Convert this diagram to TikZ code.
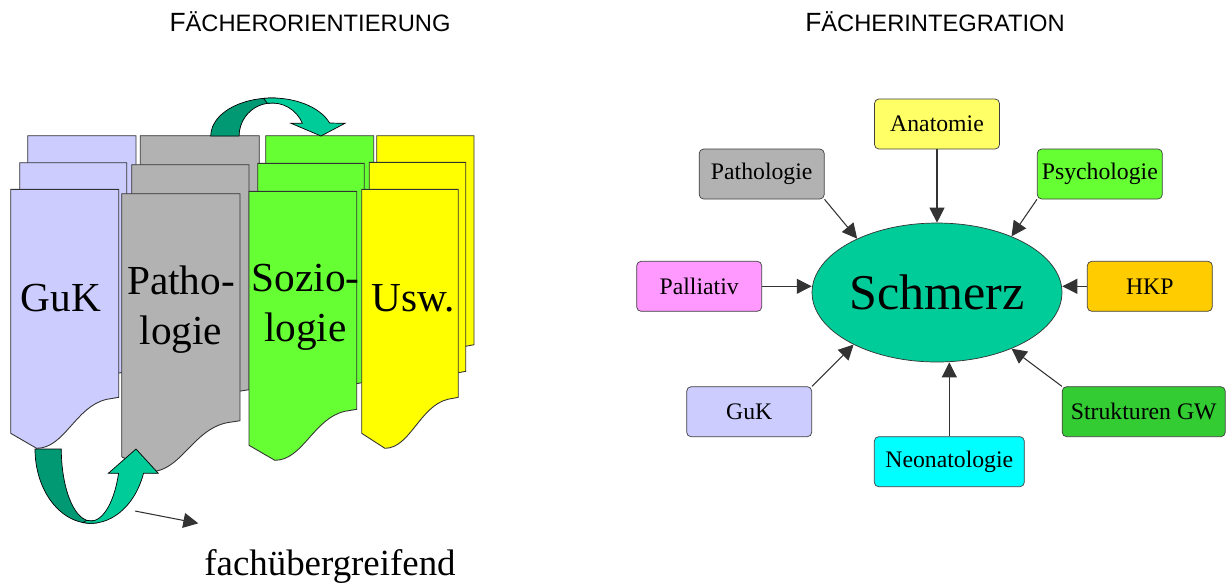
\documentclass[tikz,border=0pt]{standalone}
\usepackage{fontspec}
\setmainfont{Liberation Serif}
\newfontfamily\arial{Liberation Sans}
\usetikzlibrary{shapes.geometric,arrows.meta}

\definecolor{lavendel}{HTML}{CCCCFF}
\definecolor{grau}{HTML}{B2B2B2}
\definecolor{gruen}{HTML}{66FF33}
\definecolor{gelb}{HTML}{FFFF00}
\definecolor{hellgelb}{HTML}{FFFF66}
\definecolor{rosa}{HTML}{FF99FF}
\definecolor{hkpgelb}{HTML}{FFCC00}
\definecolor{tuerkis}{HTML}{00FFFF}
\definecolor{wiesengruen}{HTML}{33CC33}
\definecolor{mint}{HTML}{00CC99}
\definecolor{mintdunkel}{HTML}{009973}

\tikzset{
  karte/.style={draw=black!80, line width=0.5pt},
  kartentext/.style={font=\fontsize{23.5}{28.5}\selectfont, align=center, inner sep=0pt},
  fach/.style={draw=black!75, rounded corners=2.5pt, minimum width=2.5cm, minimum height=1cm,
    inner sep=1pt, font=\fontsize{13.5}{16}\selectfont},
  pfeil/.style={-{Triangle[length=8.5pt,width=8.5pt]}, draw=black!80, line width=0.6pt},
  band/.style={draw=black, line width=0.4pt},
  kopf/.style={font=\arial\fontsize{15}{18}\selectfont, anchor=base},
}

% Karteikarte: links oben (#1,#2), Breite #3, Tiefe bis zur Spitze #4, Farbe #5
\newcommand{\karte}[5]{%
  \filldraw[karte,fill=#5] (#1,#2) -- ({#1+#3},#2) -- ({#1+#3},{#2+#4-51})
    -- ({#1+0.89*#3},{#2+#4-49})
    .. controls ({#1+0.6*#3},{#2+#4-42}) and ({#1+0.5*#3},{#2+#4}) .. ({#1+0.24*#3},{#2+#4})
    -- (#1,{#2+#4-15}) -- cycle;}

\begin{document}
\begin{tikzpicture}[x=0.02cm,y=-0.02cm]
\path[use as bounding box, fill=white] (0,0) rectangle (1226,583);

% Ueberschriften
\node[kopf] (kopflinks) at (310,31.7) {F{\fontsize{13.5}{16}\selectfont ÄCHERORIENTIERUNG}};
\node[kopf] (kopfrechts) at (935,31.7) {F{\fontsize{13.5}{16}\selectfont ÄCHERINTEGRATION}};

% hintere Reihe
\karte{27.7}{135.7}{108.3}{260}{lavendel}
\karte{140.3}{135.7}{119}{276}{grau}
\karte{265.7}{135.7}{108}{270}{gruen}
\karte{376.7}{135.7}{97.3}{260}{gelb}
% mittlere Reihe
\karte{19.7}{162.7}{107}{260}{lavendel}
\karte{131.7}{164.7}{117.3}{276}{grau}
\karte{257.7}{163.3}{106.6}{270}{gruen}
\karte{369.3}{162.3}{96.4}{260}{gelb}
% vordere Reihe
\karte{10.7}{189.3}{108}{259}{lavendel}
\karte{121.7}{193.7}{118.3}{278}{grau}
\karte{249}{191.3}{107.7}{269}{gruen}
\karte{361.7}{189.3}{96.6}{259}{gelb}

\node[kartentext, anchor=base] (tguk) at (61,311.7) {GuK};
\node[kartentext] (tpatho) at (181,310) {Patho-\\logie};
\node[kartentext] (tsozio) at (305.5,307) {Sozio-\\logie};
\node[kartentext, anchor=base] (tusw) at (413,311.7) {Usw.};

% gebogener Pfeil oben
\filldraw[band, fill=mintdunkel] (210.7,136) arc[start angle=180, end angle=275, x radius=61.3, y radius=38]
  -- ([shift={(272,136)}] 275:32.9 and 33) arc[start angle=275, end angle=180, x radius=32.9, y radius=33] -- cycle;
\filldraw[band, fill=mint] ([shift={(272,136)}] 262:61.3 and 38) arc[start angle=262, end angle=340, x radius=61.3, y radius=38]
  -- (345,123.3) -- (321,136) -- (291,123.3) -- ([shift={(272,136)}] 337.4:32.9 and 33)
  arc[start angle=337.4, end angle=262, x radius=32.9, y radius=33] -- cycle;

% gebogener Pfeil unten
\filldraw[band, fill=mintdunkel] (35,449) arc[start angle=180, end angle=84, x radius=55.8, y radius=74.3]
  -- ([shift={(90.8,449)}] 84:29.5 and 72) arc[start angle=84, end angle=180, x radius=29.5, y radius=72] -- cycle;
\filldraw[band, fill=mint] ([shift={(90.8,449)}] 98:55.8 and 74.3) arc[start angle=98, end angle=19, x radius=55.8, y radius=74.3]
  -- (158.3,473.3) -- (136,449) -- (108.3,473.3) -- ([shift={(90.8,449)}] 19.7:29.5 and 72)
  arc[start angle=19.7, end angle=98, x radius=29.5, y radius=72] -- cycle;

\coordinate (pfeilstart) at (135,511);
\coordinate (pfeilende) at (198.3,523.3);
\draw[pfeil] (pfeilstart) -- (pfeilende);
\node[font=\fontsize{21}{25}\selectfont, anchor=base] (uebergreifend) at (330,575) {fachübergreifend};

% Faecherintegration
\node[draw=black!80, fill=mint, ellipse, minimum width=5cm, minimum height=2.78cm, inner sep=0pt,
  font=\fontsize{28.5}{34}\selectfont] (schmerz) at (937,292.5) {Schmerz};

\node[fach, fill=hellgelb] (anat) at (937,124) {Anatomie};
\node[fach, fill=grau] (patho) at (761.7,174) {Pathologie};
\node[fach, fill=gruen] (psych) at (1099.8,174) {Psychologie};
\node[fach, fill=rosa] (pall) at (699.2,286.3) {Palliativ};
\node[fach, fill=hkpgelb] (hkp) at (1149.8,286.3) {HKP};
\node[fach, fill=lavendel] (guk) at (749.2,411.7) {GuK};
\node[fach, fill=tuerkis, minimum width=3cm] (neo) at (949.3,461.7) {Neonatologie};
\node[fach, fill=wiesengruen, minimum width=3.26cm] (struk) at (1143.7,411.7) {Strukturen GW};

\draw[pfeil] (patho.south east) -- (schmerz.146.8);
\draw[pfeil] (anat.south) -- (schmerz.north);
\draw[pfeil] (psych.south west) -- (schmerz.37.2);
\draw[pfeil] (pall.east) -- (schmerz.west |- pall.east);
\draw[pfeil] (hkp.west) -- (schmerz.east |- hkp.west);
\draw[pfeil] (guk.north east) -- (schmerz.212.9);
\draw[pfeil] (neo.north) -- (neo.north |- schmerz.south);
\draw[pfeil] (struk.north west) -- (schmerz.323.1);
\end{tikzpicture}
\end{document}
